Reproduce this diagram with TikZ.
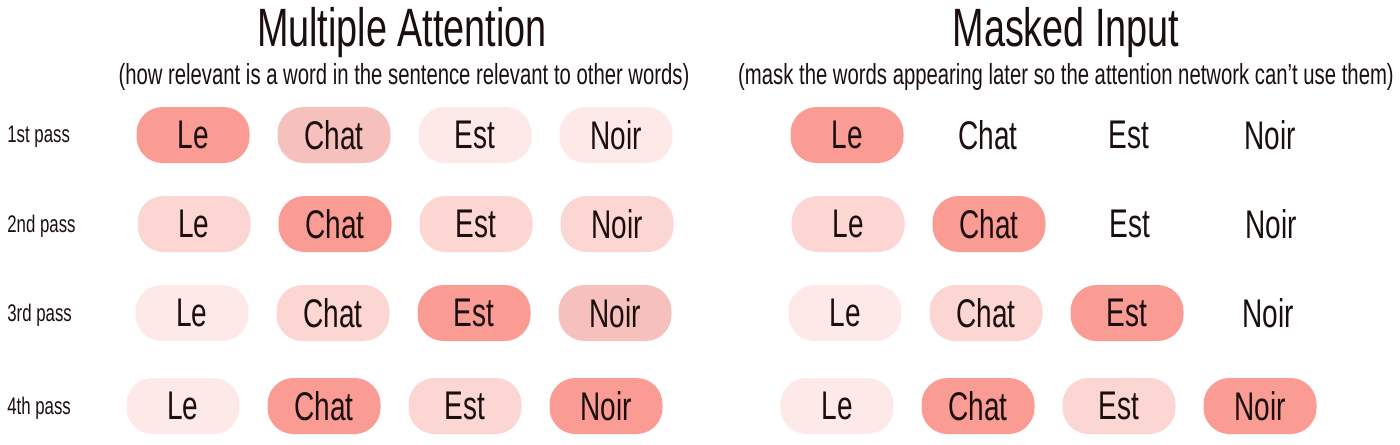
\documentclass[tikz,border=0pt]{standalone}
\usepackage{fontspec}
\setmainfont[FakeStretch=0.7]{Liberation Sans}
\usetikzlibrary{positioning}

\definecolor{attnhigh}{HTML}{FA9B94}
\definecolor{attnmid}{HTML}{F6C1BC}
\definecolor{attnlow}{HTML}{FCD6D2}
\definecolor{attnfaint}{HTML}{FDEAE8}
\definecolor{ink}{HTML}{1A0E0E}

\tikzset{
    word/.style={rounded corners=13pt, minimum width=56.5pt, minimum height=28pt,
        inner sep=0pt, text=ink, font=\fontsize{20}{20}\selectfont},
    passlabel/.style={anchor=west, inner sep=0pt, text=ink, font=\fontsize{12}{12}\selectfont},
    title/.style={text=ink, inner sep=0pt, font=\fontsize{27}{27}\selectfont},
    subtitle/.style={text=ink, inner sep=0pt, font=\fontsize{14.5}{14.5}\selectfont},
}

\begin{document}
\begin{tikzpicture}[x=0.5pt, y=-0.5pt, node distance=70.5pt]
    \useasboundingbox (0,0) rectangle (1400,444);

    % headings
    \node (atttitle) [title] at (402,33) {Multiple Attention};
    \node (attsub) [subtitle] at (404,77) {(how relevant is a word in the sentence relevant to other words)};
    \node (masktitle) [title] at (1066,33) {Masked Input};
    \node (masksub) [subtitle] at (1066,77) {(mask the words appearing later so the attention network can't use them)};

    % pass labels
    \node (pass1) [passlabel] at (7,137) {1st pass};
    \node (pass2) [passlabel] at (7,226) {2nd pass};
    \node (pass3) [passlabel] at (7,315) {3rd pass};
    \node (pass4) [passlabel] at (7,408) {4th pass};

    % multiple attention
    \node (le1) [word, fill=attnhigh] at (193,135) {Le};
    \node (chat1) [word, fill=attnmid, right of=le1] {Chat};
    \node (est1) [word, fill=attnfaint, right of=chat1] {Est};
    \node (noir1) [word, fill=attnfaint, right of=est1] {Noir};

    \node (le2) [word, fill=attnlow] at (194,224) {Le};
    \node (chat2) [word, fill=attnhigh, right of=le2] {Chat};
    \node (est2) [word, fill=attnlow, right of=chat2] {Est};
    \node (noir2) [word, fill=attnlow, right of=est2] {Noir};

    \node (le3) [word, fill=attnfaint] at (192,313) {Le};
    \node (chat3) [word, fill=attnlow, right of=le3] {Chat};
    \node (est3) [word, fill=attnhigh, right of=chat3] {Est};
    \node (noir3) [word, fill=attnmid, right of=est3] {Noir};

    \node (le4) [word, fill=attnfaint] at (183,406) {Le};
    \node (chat4) [word, fill=attnhigh, right of=le4] {Chat};
    \node (est4) [word, fill=attnlow, right of=chat4] {Est};
    \node (noir4) [word, fill=attnhigh, right of=est4] {Noir};

    % masked input
    \node (mle1) [word, fill=attnhigh] at (847,135) {Le};
    \node (mchat1) [word, right of=mle1] {Chat};
    \node (mest1) [word, right of=mchat1] {Est};
    \node (mnoir1) [word, right of=mest1] {Noir};

    \node (mle2) [word, fill=attnlow] at (848,224) {Le};
    \node (mchat2) [word, fill=attnhigh, right of=mle2] {Chat};
    \node (mest2) [word, right of=mchat2] {Est};
    \node (mnoir2) [word, right of=mest2] {Noir};

    \node (mle3) [word, fill=attnfaint] at (845,313) {Le};
    \node (mchat3) [word, fill=attnlow, right of=mle3] {Chat};
    \node (mest3) [word, fill=attnhigh, right of=mchat3] {Est};
    \node (mnoir3) [word, right of=mest3] {Noir};

    \node (mle4) [word, fill=attnfaint] at (837,406) {Le};
    \node (mchat4) [word, fill=attnhigh, right of=mle4] {Chat};
    \node (mest4) [word, fill=attnlow, right of=mchat4] {Est};
    \node (mnoir4) [word, fill=attnhigh, right of=mest4] {Noir};
\end{tikzpicture}
\end{document}
